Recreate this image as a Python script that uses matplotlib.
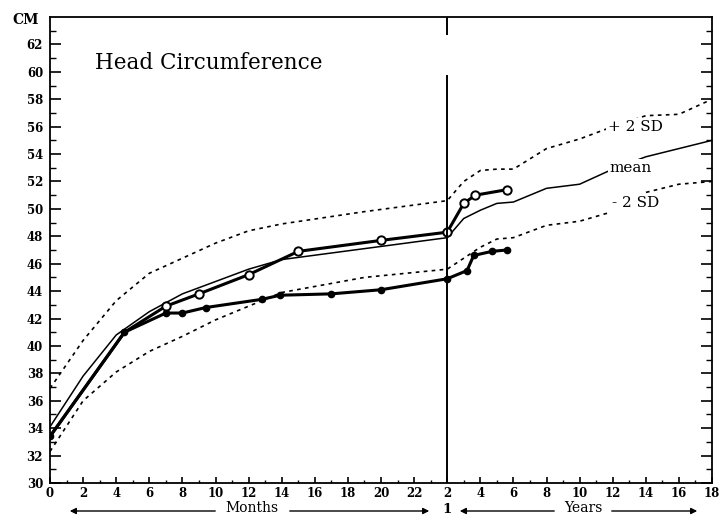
import matplotlib.pyplot as plt
import numpy as np
from matplotlib.ticker import FixedLocator, FixedFormatter

# ages in months (after 24 months the axis runs in years)
age_shared = [0, 4.5]
hc_shared = [33.4, 41.0]

age_open = [7, 9, 12, 15, 20, 24, 36, 44.4, 67.2]
hc_open = [42.9, 43.8, 45.2, 46.9, 47.7, 48.3, 50.4, 51.0, 51.4]

age_filled = [7, 8, 9.4, 12.8, 13.9, 17, 20, 24, 38.4, 43.2, 56.4, 67.2]
hc_filled = [42.4, 42.4, 42.8, 43.4, 43.7, 43.8, 44.1, 44.9, 45.5, 46.6, 46.9, 47.0]

# reference curves
ref_age = [0, 2, 4, 6, 8, 10, 12, 14, 19, 24, 36, 48, 60, 72, 96, 120, 144, 168, 192, 216]
hc_mean = [34.1, 37.8, 40.8, 42.5, 43.8, 44.7, 45.6, 46.3, 47.1, 47.9,
           49.3, 49.9, 50.4, 50.5, 51.5, 51.8, 52.9, 53.8, 54.4, 55.0]
hc_plus2 = [36.9, 40.4, 43.3, 45.3, 46.4, 47.5, 48.4, 48.9, 49.8, 50.6,
            52.0, 52.8, 52.9, 52.9, 54.4, 55.1, 56.0, 56.8, 56.9, 58.0]
hc_minus2 = [32.3, 36.0, 38.1, 39.6, 40.7, 41.9, 42.9, 43.9, 45.0, 45.6,
             46.4, 47.2, 47.8, 47.9, 48.8, 49.1, 49.8, 51.2, 51.8, 52.0]

month_ticks = list(range(0, 24, 2))
year_ticks = list(range(2, 20, 2))


# months up to 24, then one axis unit per year
def fwd(m):
    m = np.asarray(m, dtype=float)
    return np.where(m <= 24, m, 22 + m / 12)


def inv(p):
    p = np.asarray(p, dtype=float)
    return np.where(p <= 24, p, (p - 22) * 12)


plt.rcParams['font.family'] = 'DejaVu Serif'

fig = plt.figure(figsize=(7.22, 5.16), dpi=100)
ax = fig.add_axes([50 / 722, 33 / 516, 662 / 722, 466 / 516])
ax.set_xscale('function', functions=(fwd, inv))

dots = (0, (2.2, 2.6))
ax.plot(ref_age, hc_plus2, color='black', lw=1.2, ls=dots)
ax.plot(ref_age, hc_minus2, color='black', lw=1.2, ls=dots)
ax.plot(ref_age, hc_mean, color='black', lw=1.1)

ax.plot(age_shared + age_open, hc_shared + hc_open, color='black', lw=2.2)
ax.plot(age_shared + age_filled, hc_shared + hc_filled, color='black', lw=2.2)
ax.plot(age_open, hc_open, 'o', ms=6, mfc='white', mec='black', mew=1.4)
ax.plot(age_shared + age_filled, hc_shared + hc_filled, 'o', ms=4.5, color='black')

ax.vlines(24, 30, 59.8, color='black', lw=1.4)
ax.vlines(24, 62.7, 64, color='black', lw=1.4)

lab = dict(fontsize=11, va='center', ha='center',
           bbox=dict(facecolor='white', edgecolor='none', pad=1.5))
ax.text(13.4 * 12, 56.0, '+ 2 SD', **lab)
ax.text(13.1 * 12, 53.0, 'mean', **lab)
ax.text(13.4 * 12, 50.4, '- 2 SD', **lab)

ax.set_xlim(0, 216)
ax.set_ylim(30, 64)

major_x = month_ticks + [y * 12 for y in year_ticks]
minor_x = list(range(1, 24, 2)) + [y * 12 for y in range(3, 18, 2)]
ax.xaxis.set_major_locator(FixedLocator(major_x))
ax.xaxis.set_major_formatter(FixedFormatter([str(t) for t in month_ticks + year_ticks]))
ax.xaxis.set_minor_locator(FixedLocator(minor_x))
ax.yaxis.set_major_locator(FixedLocator(list(range(30, 64, 2))))
ax.yaxis.set_minor_locator(FixedLocator(list(range(31, 64, 2))))

ax.tick_params(axis='y', which='major', direction='in', length=8, width=1.2,
               right=True, labelsize=8.5, pad=5)
ax.tick_params(axis='y', which='minor', direction='in', length=4, width=1, right=True)
ax.tick_params(axis='x', which='major', direction='in', length=4, width=1.2,
               labelsize=8.5, pad=3)
ax.tick_params(axis='x', which='minor', direction='in', length=2.5, width=1)
for t in ax.get_xticklabels() + ax.get_yticklabels():
    t.set_fontweight('bold')
for s in ax.spines.values():
    s.set_linewidth(1.3)

fig.text(12 / 722, 1 - 20 / 516, 'CM', fontsize=10, fontweight='bold', va='center')
fig.text(95 / 722, 1 - 63 / 516, 'Head Circumference', fontsize=15.5, va='center')

# months / years arrows below the axis
arr = dict(arrowstyle='-|>', lw=1, color='black', mutation_scale=9)
ax.annotate('', xy=(67, 5), xytext=(218, 5), xycoords='figure pixels', arrowprops=arr)
ax.annotate('', xy=(432, 5), xytext=(287, 5), xycoords='figure pixels', arrowprops=arr)
ax.annotate('', xy=(457, 5), xytext=(557, 5), xycoords='figure pixels', arrowprops=arr)
ax.annotate('', xy=(700, 5), xytext=(609, 5), xycoords='figure pixels', arrowprops=arr)
fig.text(252 / 722, 7.5 / 516, 'Months', fontsize=10, ha='center', va='center')
fig.text(447 / 722, 6.5 / 516, '1', fontsize=9.5, fontweight='bold', ha='center', va='center')
fig.text(583 / 722, 7.5 / 516, 'Years', fontsize=10, ha='center', va='center')

fig.savefig('out.png', dpi=100)
